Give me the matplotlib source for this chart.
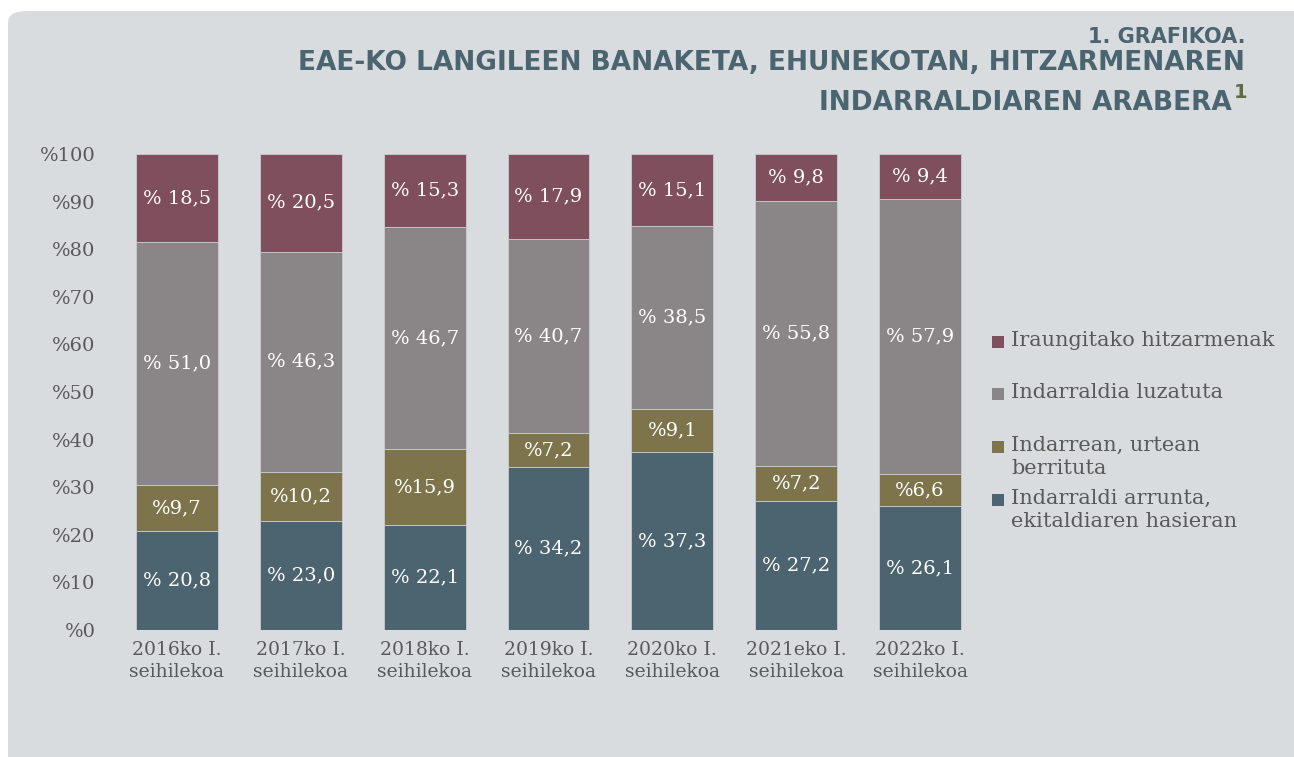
import numpy as np
import matplotlib.pyplot as plt
from matplotlib.patches import FancyBboxPatch, Rectangle

# Datuak
kategoriak = ['2016ko I.\nseihilekoa', '2017ko I.\nseihilekoa', '2018ko I.\nseihilekoa',
              '2019ko I.\nseihilekoa', '2020ko I.\nseihilekoa', '2021eko I.\nseihilekoa',
              '2022ko I.\nseihilekoa']
arrunta = [20.8, 23.0, 22.1, 34.2, 37.3, 27.2, 26.1]
berrituta = [9.7, 10.2, 15.9, 7.2, 9.1, 7.2, 6.6]
luzatuta = [51.0, 46.3, 46.7, 40.7, 38.5, 55.8, 57.9]
iraungita = [18.5, 20.5, 15.3, 17.9, 15.1, 9.8, 9.4]

serieak = [
    ('Indarraldi arrunta,\nekitaldiaren hasieran', arrunta, '#4c646f', '% {}'),
    ('Indarrean, urtean\nberrituta', berrituta, '#7e744b', '%{}'),
    ('Indarraldia luzatuta', luzatuta, '#8a8687', '% {}'),
    ('Iraungitako hitzarmenak', iraungita, '#7f4f5d', '% {}'),
]

serif = ['DejaVu Serif']
testu_kolorea = '#595959'
W, H = 1294, 757

fig = plt.figure(figsize=(12.94, 7.57), dpi=100)
fig.patch.set_facecolor('white')

# Atzeko planoa (ertz biribila)
bg = FancyBboxPatch((8 / W, -0.05), 1.1, (H - 11) / H + 0.05,
                    boxstyle='round,pad=0,rounding_size=0.015',
                    transform=fig.transFigure, facecolor='#d9dcdf',
                    edgecolor='none', zorder=-10)
fig.patches.append(bg)

ax = fig.add_axes([115 / W, 1 - 630 / H, (982 - 115) / W, (630 - 154) / H])
ax.set_facecolor('none')
ax.set_zorder(5)

x = np.arange(len(kategoriak))
behea = np.zeros(len(kategoriak))
for izena, balioak, kolorea, fmt in serieak:
    balioak = np.array(balioak)
    ax.bar(x, balioak, bottom=behea, width=0.66, color=kolorea, label=izena,
           edgecolor='#c9ccd0', linewidth=0.6, zorder=2)
    for xi, b, v in zip(x, behea, balioak):
        ax.text(xi, b + v / 2, fmt.format(f'{v:.1f}'.replace('.', ',')),
                ha='center', va='center', color='white', fontsize=14,
                family=serif, zorder=3)
    behea += balioak

ax.set_xlim(-0.5, len(kategoriak) - 0.5)
ax.set_ylim(0, 100)
ax.set_yticks(range(0, 101, 10))
ax.set_yticklabels([f'%{v}' for v in range(0, 101, 10)], family=serif,
                   fontsize=14, color=testu_kolorea)
ax.set_xticks(x)
ax.set_xticklabels(kategoriak, family=serif, fontsize=13.5, color=testu_kolorea,
                   linespacing=1.25)
ax.tick_params(axis='both', length=0)
ax.tick_params(axis='y', pad=14)
ax.tick_params(axis='x', pad=8)
for s in ax.spines.values():
    s.set_visible(False)

# Legenda (sarrerak eskuz kokatuta, jatorrizkoan bezala)
leg_y = [342, 394, 447, 500]
for (izena, _, kolorea, _), yp in zip(serieak[::-1], leg_y):
    fig.patches.append(Rectangle((992 / W, 1 - (yp + 6) / H), 12 / W, 12 / H,
                                 transform=fig.transFigure, facecolor=kolorea,
                                 edgecolor='none'))
    fig.text(1011 / W, 1 - (yp - 11) / H, izena, ha='left', va='top',
             fontsize=15, color=testu_kolorea, family=serif, linespacing=1.25)

# Izenburua
izenburu_kolorea = '#4a6470'
fig.text(1245 / W, 1 - 37 / H, '1. GRAFIKOA.', ha='right', va='center',
         fontsize=15, fontweight='bold', color=izenburu_kolorea, family='DejaVu Sans')
fig.text(1245 / W, 1 - 63 / H,
         'EAE-KO LANGILEEN BANAKETA, EHUNEKOTAN, HITZARMENAREN',
         ha='right', va='center', fontsize=19, fontweight='bold',
         color=izenburu_kolorea, family='DejaVu Sans')
fig.text(1232 / W, 1 - 103 / H, 'INDARRALDIAREN ARABERA',
         ha='right', va='center', fontsize=19, fontweight='bold',
         color=izenburu_kolorea, family='DejaVu Sans')
fig.text(1234 / W, 1 - 93 / H, '1', ha='left', va='center',
         fontsize=14, fontweight='bold', color='#5f6b45', family='DejaVu Sans')

fig.savefig('out.png', dpi=100, facecolor=fig.get_facecolor())
